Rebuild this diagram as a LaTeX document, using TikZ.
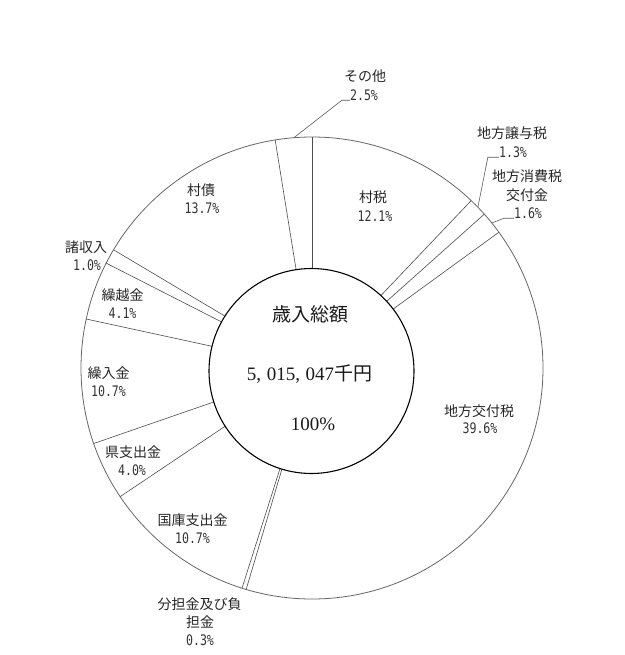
\documentclass[tikz,border=0pt]{standalone}
\usepackage{fontspec}
\setmainfont{Liberation Serif}
\newfontfamily\cjk{Noto Sans CJK JP}
\newfontfamily\numf[FakeStretch=0.8]{DejaVu Sans Mono}
\usetikzlibrary{calc}
\begin{document}
\begin{tikzpicture}[x=1pt,y=-1pt,
  lbl/.style={font=\cjk\fontsize{14}{16}\selectfont, inner sep=0pt, text=black!85},
  pct/.style={font=\numf\fontsize{14.5}{16}\selectfont, inner sep=0pt, text=black!80},
  ctxt/.style={font=\cjk\fontsize{19}{22}\selectfont, inner sep=0pt, text=black!90},
  cnum/.style={font=\fontsize{19}{22}\selectfont, inner sep=0pt, text=black!90},
  radial/.style={draw=black!70, line width=0.6pt},
  outer/.style={draw=black!60, line width=0.8pt},
  inner/.style={draw=black, line width=1.1pt, fill=white},
  leader/.style={draw=black!65, line width=0.6pt}]
\useasboundingbox (0,0) rectangle (624,655);
\coordinate (C) at (312,368);
\def\R{231pt}
% radial boundaries (clockwise from 12 o'clock, in %)
\foreach \p in {0,12.1,13.4,15.0,54.6,54.9,65.6,69.7,78.4,82.5,83.55,97.45}
  \draw[radial] (C) -- ($(C)+({90-3.6*\p}:\R)$);
\draw[outer] (C) circle[radius=231pt];
\path[inner] (311.5,371) circle[radius=102.5pt];
\coordinate (ic) at (311.5,371);
% centre texts
\node[ctxt] (tot) at (310,314) {歳入総額};
\node[cnum] (amt) at (309.5,374.5) {5,\hspace{0.3em}015,\hspace{0.3em}047{\cjk 千円}};
\node[cnum] (hund) at (313,424) {100\%};
% slice labels
\node[lbl] (sonzei) at (373,197) {村税};
\node[pct] (sonzeip) at (375,216) {12.1\%};
\node[lbl] (jouyo) at (512,133) {地方譲与税};
\node[pct] (jouyop) at (513,152) {1.3\%};
\node[lbl] (shouhia) at (527,176) {地方消費税};
\node[lbl] (shouhib) at (527,195) {交付金};
\node[pct] (shouhip) at (528,213) {1.6\%};
\node[lbl] (koufu) at (479,411) {地方交付税};
\node[pct] (koufup) at (480,428.5) {39.6\%};
\node[lbl] (buntana) at (199.5,604) {分担金及び負};
\node[lbl] (buntanb) at (200,622) {担金};
\node[pct] (buntanp) at (200,640) {0.3\%};
\node[lbl] (kokko) at (192.5,520) {国庫支出金};
\node[pct] (kokkop) at (192.5,538) {10.7\%};
\node[lbl] (ken) at (133,452) {県支出金};
\node[pct] (kenp) at (132,470) {4.0\%};
\node[lbl] (kuriire) at (108.5,373) {繰入金};
\node[pct] (kuriirep) at (108.5,391) {10.7\%};
\node[lbl] (kurikoshi) at (122.5,295) {繰越金};
\node[pct] (kurikoship) at (122.5,313) {4.1\%};
\node[lbl] (shoshu) at (86,247) {諸収入};
\node[pct] (shoshup) at (87,265) {1.0\%};
\node[lbl] (sonsai) at (201,190) {村債};
\node[pct] (sonsaip) at (202,208) {13.7\%};
\node[lbl] (sonota) at (365,76) {その他};
\node[pct] (sonotap) at (364,95) {2.5\%};
% leader lines
\coordinate (lSonota) at ($(C)+({90-3.6*98.75}:\R)$);
\coordinate (lJouyo) at ($(C)+({90-3.6*12.75}:\R)$);
\coordinate (lShouhi) at ($(C)+({90-3.6*14.2}:\R)$);
\draw[leader] (lSonota) -- ([xshift=-8pt]sonotap.base west) -- (sonotap.base west);
\draw[leader] (lJouyo) -- ([xshift=-11pt]jouyop.base west) -- (jouyop.base west);
\draw[leader] (lShouhi) -- ([xshift=-10pt]shouhip.base west) -- (shouhip.base west);
\end{tikzpicture}
\end{document}
